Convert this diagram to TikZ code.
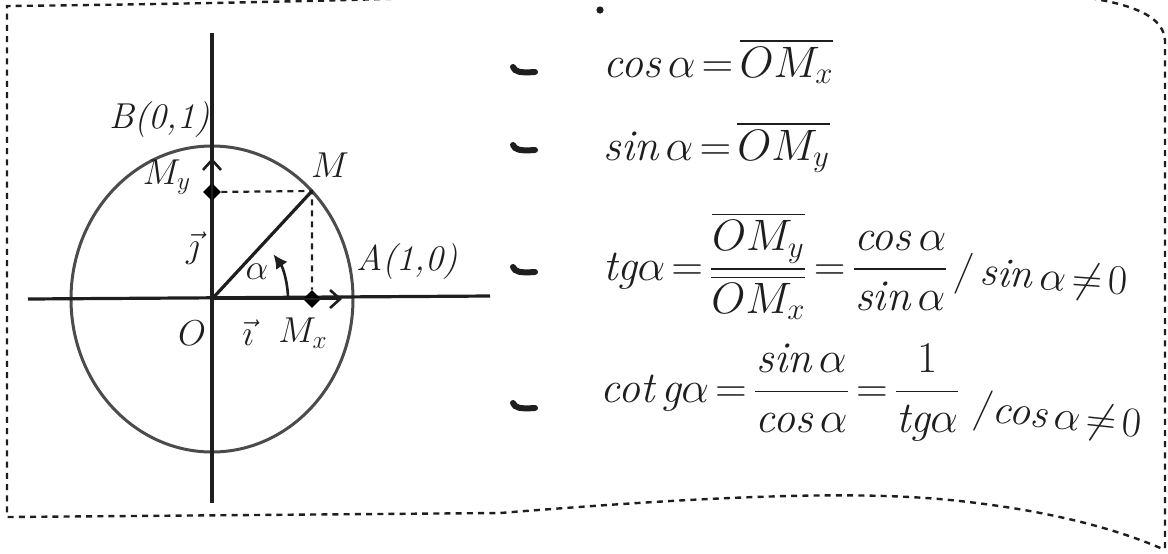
\documentclass[tikz,border=0pt]{standalone}
\usepackage{fix-cm}
\usepackage{amsmath}
\usepackage{fontspec}
\usetikzlibrary{arrows.meta,shapes.geometric}
\definecolor{inkc}{RGB}{30,30,30}
\definecolor{circc}{RGB}{75,75,75}
\newcommand{\ti}[1]{\text{\itshape #1}}
\tikzset{
  axisline/.style={draw=inkc, line width=1.6pt},
  circline/.style={draw=circc, line width=1.5pt},
  dashline/.style={draw=inkc, line width=1.1pt, dash pattern=on 3pt off 2.5pt},
  border/.style={draw=inkc, line width=1.2pt, dash pattern=on 3pt off 2.6pt},
  ptdot/.style={diamond, fill=black, inner sep=0pt, minimum size=9pt},
  lbl/.style={inner sep=0pt, text=inkc, font=\fontsize{18}{21}\selectfont},
  formula/.style={inner sep=0pt, text=inkc, font=\fontsize{22}{26}\selectfont},
  tailf/.style={inner sep=0pt, text=inkc, font=\fontsize{21}{25}\selectfont},
  bullet/.style={draw=inkc, line width=3pt, line cap=round},
  vecarrow/.style={draw=inkc, line width=1.3pt, -{Straight Barb[length=5pt,width=9pt]}}
}
\begin{document}
\thickmuskip=2.5mu\relax
\medmuskip=2mu\relax
\begin{tikzpicture}[x=0.5pt,y=-0.5pt]
\useasboundingbox (0,0) rectangle (1168,553);
\clip (0,0) rectangle (1168,553);
% frame
\draw[border] (1165,548) -- (1165,40) .. controls (1162,10) and (1120,-12) .. (900,-12)
  .. controls (600,-10) and (400,2) .. (7,6) -- (7,517) -- (500,513)
  .. controls (700,497) and (850,490) .. (950,500)
  .. controls (1050,510) and (1120,530) .. (1165,550);
% circle and axes
\coordinate (O) at (212,299);
\coordinate (xl) at (28,299);
\coordinate (xr) at (490,296);
\coordinate (yt) at (212,33);
\coordinate (yb) at (212,503);
\coordinate (M) at (312,191);
\coordinate (itip) at (342,299);
\coordinate (jtip) at (212,158);
\draw[circline] (O) ellipse [x radius=70.5pt, y radius=76.5pt];
\draw[axisline] (xl) -- (xr);
\draw[axisline] (yb) -- (yt);
\draw[axisline] (O) -- (M);
\node[ptdot] (My) at (212,192) {};
\node[ptdot] (Mx) at (312,299) {};
\draw[dashline] (My) -- (M) -- (Mx);
\draw[vecarrow] (O) -- (jtip);
\draw[vecarrow] (O) -- (itip);
\draw[draw=inkc, line width=1.3pt, -{Latex[length=7pt,width=7pt]}] ([xshift=38pt]O) arc[start angle=0, end angle=36, radius=38pt];
% labels
\node[lbl] (Bl) at (160,120) {\itshape B(0,1)};
\node[lbl] (Myl) at (167,177) {$M_{y}$};
\node[lbl] (Ml) at (330,165) {$M$};
\node[lbl] (jl) at (193,248) {$\vec{\jmath}$};
\node[lbl] (Al) at (407,262) {\itshape A(1,0)};
\node[lbl] (Ol) at (192,333) {$O$};
\node[lbl] (il) at (248,333) {$\vec{\imath}$};
\node[lbl] (Mxl) at (303,333) {$M_{x}$};
\node[lbl] (al) at (257,272) {$\alpha$};
% dot at top
\fill[inkc] (600,10) circle (1.8pt);
% bullets
\foreach \yy in {72,150,272,408} {
  \draw[bullet] (513,\yy-5) .. controls (515,\yy) and (520,\yy+1) .. (535,\yy);
}
% formulas
\node[formula, anchor=base west] (f1) at (603,77) {$\ti{cos}\,\alpha = \overline{OM_{x}}$};
\node[formula, anchor=base west] (f2) at (603,160) {$\ti{sin}\,\alpha = \overline{OM_{y}}$};
\node[formula, anchor=west] (f3) at (603,266) {$\ti{tg}\alpha = \dfrac{\overline{OM_{y}}}{\overline{OM_{x}}} = \dfrac{\ti{cos}\,\alpha}{\ti{sin}\,\alpha}$};
\node[tailf, anchor=base west, rotate=-4] (f3b) at (953,283) {$/\,\ti{sin}\,\alpha \neq 0$};
\node[formula, anchor=west] (f4) at (600,393) {$\ti{cot}\,\ti{g}\alpha = \dfrac{\ti{sin}\,\alpha}{\ti{cos}\,\alpha} = \dfrac{1}{\ti{tg}\alpha}$};
\node[tailf, anchor=base west, rotate=-6] (f4b) at (972,420) {$/\ti{cos}\,\alpha \neq 0$};
\end{tikzpicture}
\end{document}
